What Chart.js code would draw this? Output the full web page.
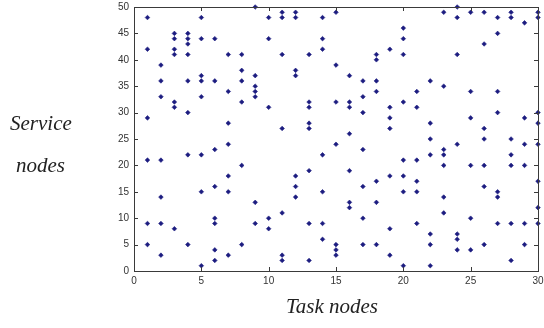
<!DOCTYPE html>
<html>
<head>
<meta charset="utf-8">
<script src="https://cdn.jsdelivr.net/npm/chart.js@4/dist/chart.umd.min.js"></script>
<style>
  html, body { margin: 0; padding: 0; background: #fff; }
  #wrap { position: relative; width: 544px; height: 328px; }
  .axis-title {
    position: absolute;
    font-family: "Liberation Serif", "DejaVu Serif", serif;
    font-style: italic;
    font-size: 21px;
    color: #222;
    white-space: nowrap;
    line-height: 1;
  }
</style>
</head>
<body>
<div id="wrap">
  <canvas id="chart" width="544" height="328"></canvas>
  <div class="axis-title" style="left:10px; top:113px;">Service</div>
  <div class="axis-title" style="left:16px; top:155px;">nodes</div>
  <div class="axis-title" style="left:286px; top:296px;">Task nodes</div>
</div>
<script>
// 작업 노드 (x) 와 각 작업 노드에 배정된 서비스 노드 (y)
const taskNodes = [1, 2, 3, 4, 5, 6, 7, 8, 9, 10, 11, 12, 13, 14, 15,
                   16, 17, 18, 19, 20, 21, 22, 23, 24, 25, 26, 27, 28, 29, 30];
const serviceNodes = [
  [48, 42, 29, 21, 9, 5],
  [39, 36, 33, 21, 14, 9, 3],
  [45, 44, 42, 41, 32, 31, 8],
  [45, 44, 43, 41, 36, 30, 22, 5],
  [48, 44, 37, 36, 33, 22, 15, 1],
  [44, 36, 23, 16, 10, 9, 4, 2],
  [41, 34, 28, 24, 18, 15, 3],
  [41, 38, 36, 32, 20, 5],
  [50, 37, 35, 34, 33, 13, 9],
  [48, 44, 31, 10, 8],
  [49, 48, 41, 27, 11, 3, 2],
  [49, 48, 38, 37, 18, 16, 14],
  [41, 32, 31, 28, 27, 19, 9, 2],
  [48, 44, 42, 22, 15, 9, 6],
  [49, 39, 32, 24, 5, 4, 3],
  [37, 32, 31, 26, 19, 13, 12],
  [36, 33, 30, 23, 16, 10, 5],
  [41, 40, 36, 34, 17, 13, 5],
  [42, 31, 29, 27, 18, 8, 3],
  [46, 44, 41, 32, 21, 18, 15, 1],
  [34, 31, 21, 17, 15, 9],
  [36, 28, 25, 22, 7, 5, 1],
  [49, 35, 23, 22, 20, 14, 11],
  [50, 48, 41, 24, 7, 6, 4],
  [49, 34, 29, 20, 10, 4],
  [49, 43, 27, 25, 20, 16, 5],
  [48, 45, 34, 30, 15, 14, 9],
  [49, 48, 25, 22, 20, 9, 2],
  [47, 29, 24, 20, 9, 5],
  [49, 48, 30, 28, 24, 17, 12, 9]
];
const xTicks = [0, 5, 10, 15, 20, 25, 30];
const yTicks = [0, 5, 10, 15, 20, 25, 30, 35, 40, 45, 50];

const points = taskNodes.flatMap((t, i) => serviceNodes[i].map(s => ({ x: t, y: s })));

// 사방 테두리 + 안쪽으로 향하는 눈금 (MATLAB 스타일)
const boxTicksPlugin = {
  id: 'boxTicks',
  afterDatasetsDraw(chart) {
    const { ctx, chartArea: a, scales } = chart;
    const len = 4;
    ctx.save();
    ctx.strokeStyle = '#3a3a3a';
    ctx.lineWidth = 1;
    ctx.beginPath();
    xTicks.forEach(v => {
      const px = Math.round(scales.x.getPixelForValue(v)) + 0.5;
      ctx.moveTo(px, a.bottom); ctx.lineTo(px, a.bottom - len);
      ctx.moveTo(px, a.top); ctx.lineTo(px, a.top + len);
    });
    yTicks.forEach(v => {
      const py = Math.round(scales.y.getPixelForValue(v)) + 0.5;
      ctx.moveTo(a.left, py); ctx.lineTo(a.left + len, py);
      ctx.moveTo(a.right, py); ctx.lineTo(a.right - len, py);
    });
    ctx.stroke();
    ctx.strokeRect(Math.round(a.left) + 0.5, Math.round(a.top) + 0.5,
                   Math.round(a.right - a.left), Math.round(a.bottom - a.top));
    ctx.restore();
  }
};

const tickFont = { family: 'Arial, "Liberation Sans", sans-serif', size: 10 };

new Chart(document.getElementById('chart'), {
  type: 'scatter',
  data: {
    datasets: [{
      data: points,
      pointStyle: 'rectRot',
      pointRadius: 2.3,
      pointHoverRadius: 2.3,
      pointBackgroundColor: '#1c1c80',
      pointBorderColor: '#1c1c80',
      pointBorderWidth: 0.6,
      clip: false
    }]
  },
  plugins: [boxTicksPlugin],
  options: {
    responsive: false,
    animation: false,
    events: [],
    layout: { padding: { left: 0, right: 6, top: 7, bottom: 0 } },
    plugins: { legend: { display: false }, tooltip: { enabled: false } },
    scales: {
      x: {
        type: 'linear',
        min: 0, max: 30,
        afterBuildTicks(scale) { scale.ticks = xTicks.map(v => ({ value: v })); },
        afterFit(scale) { scale.height = 57; scale.paddingLeft = 0; scale.paddingRight = 0; },
        grid: { display: false, drawTicks: false },
        border: { display: false },
        ticks: { color: '#333', font: tickFont, padding: 4, maxRotation: 0 }
      },
      y: {
        type: 'linear',
        min: 0, max: 50,
        afterBuildTicks(scale) { scale.ticks = yTicks.map(v => ({ value: v })); },
        afterFit(scale) { scale.width = 134; scale.paddingTop = 0; scale.paddingBottom = 0; },
        grid: { display: false, drawTicks: false },
        border: { display: false },
        ticks: { color: '#333', font: tickFont, padding: 5 }
      }
    }
  }
});
</script>
</body>
</html>
